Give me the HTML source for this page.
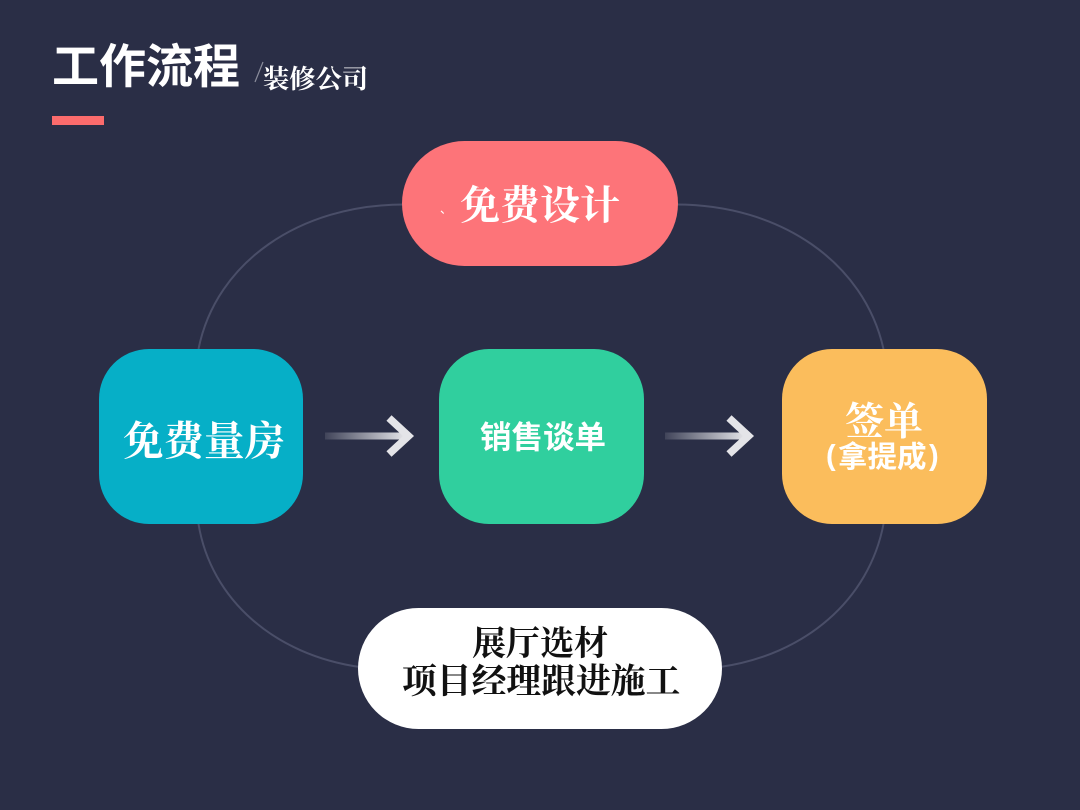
<!DOCTYPE html>
<html lang="zh">
<head>
<meta charset="utf-8">
<style>
html,body{margin:0;padding:0;background:#2a2e46;}
#p{position:relative;width:1080px;height:810px;overflow:hidden;background:#2a2e46;}
.b{position:absolute;}
.t{position:absolute;white-space:nowrap;line-height:1;}
.se{font-family:"Liberation Serif","Noto Serif CJK SC",serif;font-weight:700;}
.sa{font-family:"Liberation Sans","Noto Sans CJK SC",sans-serif;font-weight:700;}
svg{position:absolute;left:0;top:0;}
</style>
</head>
<body>
<div id="p">
<svg width="1080" height="810" viewBox="0 0 1080 810" fill="none">
<defs>
<linearGradient id="g1" gradientUnits="userSpaceOnUse" x1="325" y1="0" x2="405" y2="0"><stop offset="0" stop-color="#e4e4e8" stop-opacity="0.12"/><stop offset="1" stop-color="#e4e4e8"/></linearGradient>
<linearGradient id="g2" gradientUnits="userSpaceOnUse" x1="665" y1="0" x2="745" y2="0"><stop offset="0" stop-color="#e4e4e8" stop-opacity="0.12"/><stop offset="1" stop-color="#e4e4e8"/></linearGradient>
</defs>
<g stroke="#4a4e68" stroke-width="2">
<path d="M198.500,349 C216,262 300,204.500 404,204.500"/>
<path d="M676,204.500 C780,204.500 864,262 883.500,349"/>
<path d="M198.500,524 C211,600 275,655 360,667"/>
<path d="M720,667 C805,655 869,600 883.500,524"/>
</g>
<rect x="325" y="432.500" width="82" height="7" fill="url(#g1)"/>
<path d="M389,418 L408.500,436 L389,454" stroke="#e4e4e8" stroke-width="7.500"/>
<rect x="665" y="432.500" width="82" height="7" fill="url(#g2)"/>
<path d="M729,418 L748.500,436 L729,454" stroke="#e4e4e8" stroke-width="7.500"/>
<path d="M263,62 L255,82" stroke="#8b8d9c" stroke-width="1.200"/>
</svg>

<div class="t sa" style="left:52px;top:43px;font-size:47px;color:#fff;">工作流程</div>
<div class="t se" style="left:263px;top:67px;font-size:26.300px;color:#fff;">装修公司</div>
<div class="b" style="left:52px;top:116px;width:52px;height:9px;background:#fb6b6c;"></div>

<div class="b" style="left:402px;top:141px;width:276px;height:125px;border-radius:62.500px;background:#fd7479;"></div>
<div class="t se" style="left:460px;top:186px;font-size:40px;color:#fff;">免费设计</div>
<div class="t sa" style="left:440px;top:203px;font-size:12px;font-weight:400;color:#fff;">、</div>

<div class="b" style="left:99px;top:349px;width:204px;height:175px;border-radius:50px;background:#06afc7;"></div>
<div class="t se" style="left:123px;top:422px;font-size:40.500px;color:#fff;">免费量房</div>

<div class="b" style="left:439px;top:349px;width:205px;height:175px;border-radius:50px;background:#30cf9e;"></div>
<div class="t sa" style="left:480px;top:422px;font-size:31.500px;color:#fff;">销售谈单</div>

<div class="b" style="left:782px;top:349px;width:205px;height:175px;border-radius:50px;background:#fbbd5c;"></div>
<div class="t se" style="left:845px;top:403px;font-size:39px;color:#fff;">签单</div>
<div class="t sa" style="left:826px;top:442px;font-size:29px;color:#fff;">(</div>
<div class="t sa" style="left:838px;top:443px;font-size:29.500px;color:#fff;">拿提成</div>
<div class="t sa" style="left:929px;top:442px;font-size:29px;color:#fff;">)</div>

<div class="b" style="left:358px;top:608px;width:364px;height:121px;border-radius:60.500px;background:#fff;"></div>
<div class="t se" style="left:472px;top:628px;font-size:34px;color:#111;">展厅选材</div>
<div class="t se" style="left:402px;top:665px;font-size:34.800px;color:#111;">项目经理跟进施工</div>
</div>
</body>
</html>
